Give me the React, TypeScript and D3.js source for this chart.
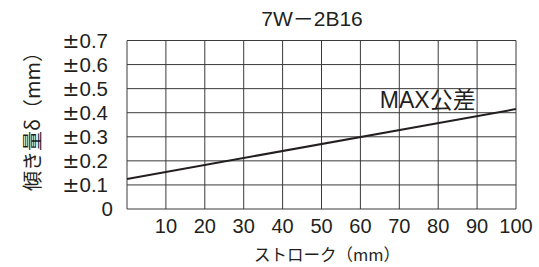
import React from 'react';
import * as d3 from 'd3';

const W = 539;
const H = 267;
const MARGIN = { top: 40.5, right: 23, bottom: 58, left: 127 };

const titleParts = ['7W', '－', '2B16'];
const xTicks = [10, 20, 30, 40, 50, 60, 70, 80, 90, 100];
const yTicks = [0, 0.1, 0.2, 0.3, 0.4, 0.5, 0.6, 0.7];
const yTickLabels = ['0', '0.1', '0.2', '0.3', '0.4', '0.5', '0.6', '0.7'];
// MAX公差 line (stroke mm, tilt mm)
const strokeVals = [0, 100];
const tiltVals = [0.125, 0.415];

const FONT = '"Liberation Sans", "Noto Sans CJK JP", sans-serif';
const CJK = '"Noto Sans CJK JP", sans-serif';
const INK = '#231f20';

export default function App() {
    const w = W - MARGIN.left - MARGIN.right;
    const h = H - MARGIN.top - MARGIN.bottom;

    const x = d3.scaleLinear().domain([0, 100]).range([0, w]);
    const y = d3.scaleLinear().domain([0, 0.7]).range([h, 0]);

    const line = d3.line<number>()
        .x((_, i) => x(strokeVals[i]))
        .y(d => y(d));

    return (
        <svg width={W} height={H} style={{ position: 'absolute', left: 0, top: 0, background: '#fff' }}
            fontFamily={FONT}>
            <text x={312} y={26} textAnchor="middle" fontSize={21} fill={INK}>
                {titleParts[0]}<tspan fontFamily={CJK}>{titleParts[1]}</tspan>{titleParts[2]}
            </text>

            <g transform={`translate(${MARGIN.left},${MARGIN.top})`}>
                {/* grid */}
                {yTicks.map(t => (
                    <line key={'gy' + t} x1={0} x2={w} y1={y(t)} y2={y(t)} stroke="#3a3a3a" strokeWidth={1} />
                ))}
                <line x1={0} x2={0} y1={0} y2={h} stroke="#3a3a3a" strokeWidth={1} />
                {xTicks.map(t => (
                    <line key={'gx' + t} x1={x(t)} x2={x(t)} y1={0} y2={h} stroke="#3a3a3a" strokeWidth={1} />
                ))}

                {/* y tick labels */}
                {yTicks.map((t, i) => (
                    <text key={'ly' + t} x={i === 0 ? -14 : -19} y={y(t)} dy="0.36em" textAnchor="end"
                        fontSize={20.5} fill={INK}>
                        {i > 0 && <tspan fontFamily='"DejaVu Sans"'>±</tspan>}{yTickLabels[i]}
                    </text>
                ))}

                {/* x tick labels */}
                {xTicks.map(t => (
                    <text key={'lx' + t} x={x(t)} y={h + 24} textAnchor="middle" fontSize={20} fill={INK}>{t}</text>
                ))}

                {/* data line */}
                <path d={line(tiltVals) || ''} fill="none" stroke={INK} strokeWidth={2} />

                <text x={x(65)} y={y(0.42)} fontSize={23} fill={INK}>MAX公差</text>
            </g>

            <text x={327} y={261} textAnchor="middle" fontSize={16.5} fill={INK} fontFamily={CJK}>ストローク（mm）</text>
            <text transform={`translate(40,116.5) rotate(-90)`} textAnchor="middle" fontSize={20} fill={INK}
                fontFamily={CJK}>傾き量δ（mm）</text>
        </svg>
    );
}
